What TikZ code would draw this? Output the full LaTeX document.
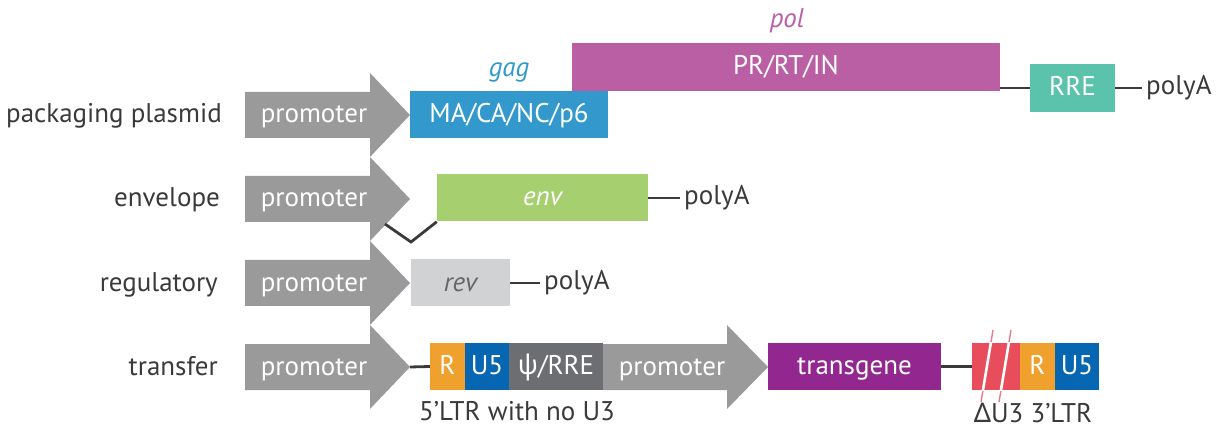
\documentclass[tikz,border=0pt]{standalone}
\usepackage{fontspec}
\setmainfont{PT Sans}
\newfontfamily\greekfont{Noto Sans}

\definecolor{labeltext}{HTML}{3A3A3A}
\definecolor{promgray}{HTML}{9A9A9A}
\definecolor{gagblue}{HTML}{3399CC}
\definecolor{polpink}{HTML}{BA5FA4}
\definecolor{rregreen}{HTML}{5BC3AC}
\definecolor{envgreen}{HTML}{A6CF6F}
\definecolor{revgray}{HTML}{D1D2D4}
\definecolor{revtext}{HTML}{666666}
\definecolor{rorange}{HTML}{F0A02C}
\definecolor{ublue}{HTML}{0766B1}
\definecolor{psigray}{HTML}{6D6E71}
\definecolor{transpurple}{HTML}{91278F}
\definecolor{u3red}{HTML}{E84D5B}

\tikzset{
  txt/.style={font=\fontsize{27}{31}\selectfont, inner sep=0pt},
  rowlabel/.style={txt, text=labeltext, anchor=base east},
  seg/.style={txt, text=white, minimum height=47pt, text height=20pt, text depth=4pt},
  genelabel/.style={txt, anchor=base, font=\fontsize{27}{31}\selectfont\itshape},
  link/.style={draw=labeltext, line width=2.8pt},
  polya/.style={txt, text=labeltext, anchor=west, inner xsep=4pt},
  promtext/.style={txt, text=white, text height=20pt, text depth=4pt},
  note/.style={txt, text=labeltext, anchor=base},
}

% promoter arrow: #1 name, #2 left x, #3 head start x, #4 tip x, #5 centre y
\newcommand\promarrow[5]{%
  \fill[promgray] (#2,#5-23) -- (#3,#5-23) -- (#3,#5-42) -- (#4,#5)
    -- (#3,#5+42) -- (#3,#5+23) -- (#2,#5+23) -- cycle;
  \coordinate (#1-tip) at (#4,#5);
}

\begin{document}
\begin{tikzpicture}[x=1pt, y=-1pt]
\useasboundingbox (0,0) rectangle (1226,430);

% ---------- packaging plasmid ----------
\node[rowlabel] (lab1) at (222,123) {packaging plasmid};
\promarrow{p1}{245}{370}{410}{115}
\node[promtext] (p1t) at (314,115) {promoter};
\node[seg, fill=polpink, minimum width=428pt, minimum height=48pt] (pol) at (786,67) {PR/RT/IN};
\node[seg, fill=gagblue, minimum width=198pt] (gagbox) at (509,114.5) {MA/CA/NC/p6};
\node[genelabel, text=gagblue] (gag) at (509,77) {gag};
\node[genelabel, text=polpink] (polname) at (787,28) {pol};
\node[seg, fill=rregreen, minimum width=85pt, minimum height=48pt] (rre) at (1072.5,88) {RRE};
\node[polya] (pa1) at (1142,88) {polyA};
\draw[link] (pol.east |- rre) -- (rre.west);
\draw[link] (rre.east) -- (pa1.west);

% ---------- envelope ----------
\node[rowlabel] (lab2) at (220,207) {envelope};
\promarrow{p2}{245}{370}{410}{199}
\node[promtext] (p2t) at (314,199) {promoter};
\node[seg, fill=envgreen, minimum width=211pt, font=\fontsize{27}{31}\selectfont\itshape] (env) at (542.5,198) {env};
\node[polya] (pa2) at (680,198) {polyA};
\draw[link] (env.east) -- (pa2.west);
\coordinate (spl1) at (385,224);
\coordinate (spl2) at (411,242);
\draw[link] (spl1) -- (spl2) -- (env.south west);

% ---------- regulatory ----------
\node[rowlabel] (lab3) at (218,291) {regulatory};
\promarrow{p3}{245}{370}{410}{283}
\node[promtext] (p3t) at (314,283) {promoter};
\node[seg, fill=revgray, text=revtext, minimum width=99pt, font=\fontsize{27}{31}\selectfont\itshape] (rev) at (460.5,283) {rev};
\node[polya] (pa3) at (540,283) {polyA};
\draw[link] (rev.east) -- (pa3.west);

% ---------- transfer ----------
\node[rowlabel] (lab4) at (218,375) {transfer};
\promarrow{p4}{245}{370}{410}{367}
\node[promtext] (p4t) at (314,367) {promoter};
\node[seg, fill=rorange, minimum width=35pt] (r5) at (447.5,366.5) {R};
\node[seg, fill=ublue, minimum width=44pt] (u55) at (487,366.5) {U5};
\node[seg, fill=psigray, minimum width=94pt] (psi) at (556,366.5) {{\greekfont ψ}/RRE};
\promarrow{p5}{603}{727}{768}{367}
\node[promtext] (p5t) at (672,367) {promoter};
\node[seg, fill=transpurple, minimum width=173pt] (tg) at (854.5,366.5) {transgene};
\node[seg, fill=u3red, minimum width=48pt] (du3) at (996,366.5) {};
\node[seg, fill=rorange, minimum width=35pt] (r3) at (1037.5,366.5) {R};
\node[seg, fill=ublue, minimum width=44pt] (u53) at (1077,366.5) {U5};
\draw[link] (p4-tip) -- (r5.west);
\draw[link] (tg.east) -- (du3.west);

% break marks across the deleted U3
\foreach \dx in {0,18} {
  \draw[u3red!75!white, line width=1.4pt] (993+\dx,330) -- (981+\dx,402);
  \begin{scope}
    \clip (du3.south west) rectangle (du3.north east);
    \draw[white, line width=2.6pt] (993+\dx,330) -- (981+\dx,402);
  \end{scope}
}

\node[note] (ltr5) at (517,420) {5’LTR with no U3};
\node[note] (ltr3) at (1033,422) {{\greekfont Δ}U3 3’LTR};
\end{tikzpicture}
\end{document}
